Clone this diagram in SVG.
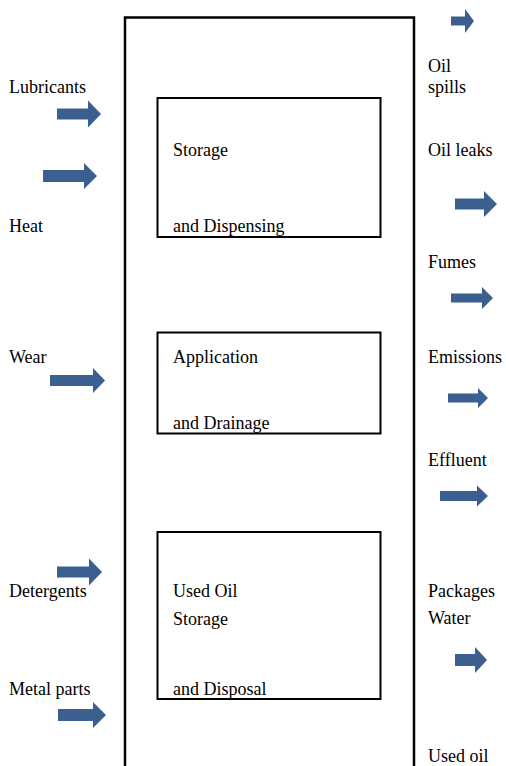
<svg xmlns="http://www.w3.org/2000/svg" width="506" height="766" viewBox="0 0 506 766">
  <style>
    .frame { fill: none; stroke: #000; stroke-width: 2.5; }
    .box { fill: #fff; stroke: #000; stroke-width: 2; }
    .lbl { font-family: 'Liberation Serif', 'Times New Roman', serif; font-size: 18px; fill: #000; }
    .arrow { fill: #3B5F8F; }
  </style>
  <rect width="506" height="766" fill="#fff"/>

  <!-- process boundary, open at the bottom -->
  <g id="process">
    <path class="frame" d="M125,770 V17.5 H414 V770"/>
  </g>

  <g id="storage-dispensing">
    <rect class="box" x="157.5" y="98" width="223" height="139"/>
    <text class="lbl" x="173" y="156">Storage</text>
    <text class="lbl" x="173" y="232">and Dispensing</text>
  </g>
  <g id="application-drainage">
    <rect class="box" x="157.5" y="332.5" width="223" height="101"/>
    <text class="lbl" x="173" y="363">Application</text>
    <text class="lbl" x="173" y="429">and Drainage</text>
  </g>
  <g id="used-oil-storage">
    <rect class="box" x="157.5" y="532" width="223" height="167"/>
    <text class="lbl" x="173" y="597">Used Oil</text>
    <text class="lbl" x="173" y="625">Storage</text>
    <text class="lbl" x="173" y="695">and Disposal</text>
  </g>

  <!-- inputs -->
  <g id="inputs">
    <text class="lbl" x="9" y="93">Lubricants</text>
    <text class="lbl" x="9" y="232">Heat</text>
    <text class="lbl" x="9" y="363">Wear</text>
    <text class="lbl" x="9" y="597">Detergents</text>
    <text class="lbl" x="9" y="695">Metal parts</text>
  </g>

  <!-- outputs -->
  <g id="outputs">
    <text class="lbl" x="428" y="72">Oil</text>
    <text class="lbl" x="428" y="93">spills</text>
    <text class="lbl" x="428" y="156">Oil leaks</text>
    <text class="lbl" x="428" y="268">Fumes</text>
    <text class="lbl" x="428" y="363">Emissions</text>
    <text class="lbl" x="428" y="466">Effluent</text>
    <text class="lbl" x="428" y="597">Packages</text>
    <text class="lbl" x="428" y="624">Water</text>
    <text class="lbl" x="428" y="762">Used oil</text>
  </g>

  <!-- block arrows -->
  <g id="connectors">
    <polygon class="arrow" points="57,108.5 88,108.5 88,100.5 101,114 88,127.5 88,119.5 57,119.5"/>
    <polygon class="arrow" points="43,170 84,170 84,163 97,176 84,189 84,182 43,182"/>
    <polygon class="arrow" points="50,375 93,375 93,368 105,380.5 93,393 93,386 50,386"/>
    <polygon class="arrow" points="57,566.5 89,566.5 89,558.5 102,572 89,585.5 89,577.5 57,577.5"/>
    <polygon class="arrow" points="58,709 93,709 93,702 106,715 93,728 93,721 58,721"/>

    <polygon class="arrow" points="451,16.5 465,16.5 465,9 474,21 465,33 465,25.5 451,25.5"/>
    <polygon class="arrow" points="455,198.5 484,198.5 484,191 497,204 484,217 484,209.5 455,209.5"/>
    <polygon class="arrow" points="451,293.5 482,293.5 482,287 493,298 482,309 482,302.5 451,302.5"/>
    <polygon class="arrow" points="448,393.5 478,393.5 478,388 488,398 478,408 478,402.5 448,402.5"/>
    <polygon class="arrow" points="440,491 477,491 477,485.5 488,496 477,506.5 477,501 440,501"/>
    <polygon class="arrow" points="455,654 475,654 475,647 487,660 475,673 475,666 455,666"/>
  </g>
</svg>
